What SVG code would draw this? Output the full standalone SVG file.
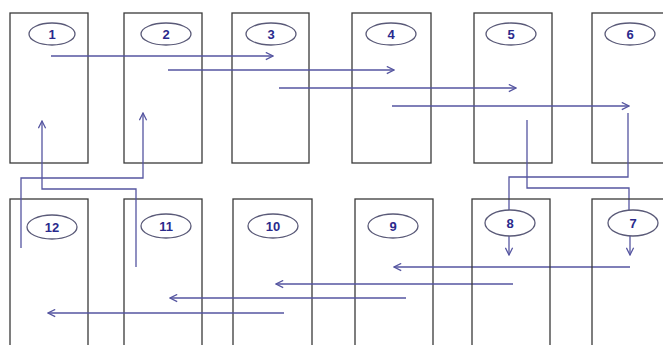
<svg xmlns="http://www.w3.org/2000/svg" width="663" height="345" viewBox="0 0 663 345">
<defs>
<style>
.box{fill:none;stroke:#3a3a3a;stroke-width:1.3}
.ov{fill:#fff;stroke:#5a5a78;stroke-width:1.3}
.lb{font-family:"Liberation Sans",Arial,sans-serif;font-size:13px;font-weight:bold;fill:#2a2a8c;text-anchor:middle;dominant-baseline:central}
.ln{fill:none;stroke:#5555a0;stroke-width:1.3}
.ar{marker-end:url(#ah)}
</style>
<marker id="ah" markerUnits="userSpaceOnUse" viewBox="0 0 10 10" markerWidth="9" markerHeight="9" refX="9" refY="5" orient="auto">
<path d="M1,1 L9,5 L1,9" fill="none" stroke="#5555a0" stroke-width="1.4"/>
</marker>
</defs>
<rect width="663" height="345" fill="#fff"/>
<g id="node1"><rect class="box" x="10" y="13" width="78" height="150"/><ellipse class="ov" cx="52" cy="34" rx="23" ry="11"/><text class="lb" x="52" y="34">1</text></g>
<g id="node2"><rect class="box" x="124" y="13" width="78" height="150"/><ellipse class="ov" cx="166" cy="34" rx="25" ry="11"/><text class="lb" x="166" y="34">2</text></g>
<g id="node3"><rect class="box" x="232" y="13" width="77" height="150"/><ellipse class="ov" cx="271" cy="34" rx="25" ry="11"/><text class="lb" x="271" y="34">3</text></g>
<g id="node4"><rect class="box" x="352" y="13" width="79" height="150"/><ellipse class="ov" cx="391" cy="34" rx="25" ry="11"/><text class="lb" x="391" y="34">4</text></g>
<g id="node5"><rect class="box" x="474" y="13" width="78" height="150"/><ellipse class="ov" cx="511" cy="34" rx="25" ry="11"/><text class="lb" x="511" y="34">5</text></g>
<g id="node6"><rect class="box" x="592" y="13" width="80" height="150"/><ellipse class="ov" cx="630" cy="34" rx="25" ry="11"/><text class="lb" x="630" y="34">6</text></g>
<g id="node12"><rect class="box" x="10" y="199" width="78" height="160"/><ellipse class="ov" cx="52" cy="227" rx="25" ry="12"/><text class="lb" x="52" y="227">12</text></g>
<g id="node11"><rect class="box" x="124" y="199" width="78" height="160"/><ellipse class="ov" cx="166" cy="226" rx="25" ry="12"/><text class="lb" x="166" y="226">11</text></g>
<g id="node10"><rect class="box" x="233" y="199" width="79" height="160"/><ellipse class="ov" cx="273" cy="226" rx="25" ry="12"/><text class="lb" x="273" y="226">10</text></g>
<g id="node9"><rect class="box" x="355" y="199" width="78" height="160"/><ellipse class="ov" cx="393" cy="226" rx="25" ry="12"/><text class="lb" x="393" y="226">9</text></g>
<g id="connectors">
<line class="ln ar" x1="51" y1="56" x2="273" y2="56"/>
<line class="ln ar" x1="168" y1="70" x2="394" y2="70"/>
<line class="ln ar" x1="279" y1="88" x2="516" y2="88"/>
<line class="ln ar" x1="392" y1="106" x2="629" y2="106"/>
<polyline class="ln" points="527,120 527,188 629,188 629,212"/>
<polyline class="ln" points="628,113 628,177 509,177 509,212"/>
<line class="ln ar" x1="630" y1="235" x2="630" y2="255"/>
<line class="ln ar" x1="509" y1="235" x2="509" y2="255"/>
<line class="ln ar" x1="630" y1="267" x2="394" y2="267"/>
<line class="ln ar" x1="513" y1="284" x2="276" y2="284"/>
<line class="ln ar" x1="406" y1="298" x2="170" y2="298"/>
<line class="ln ar" x1="284" y1="313" x2="48" y2="313"/>
<polyline class="ln ar" points="136,267 136,189 42,189 42,121"/>
<polyline class="ln ar" points="21,248 21,178 143,178 143,113"/>
</g>
<g id="node8"><rect class="box" x="472" y="199" width="78" height="160"/><ellipse class="ov" cx="510" cy="223" rx="25" ry="13"/><text class="lb" x="510" y="223">8</text></g>
<g id="node7"><rect class="box" x="592" y="199" width="80" height="160"/><ellipse class="ov" cx="633" cy="223" rx="25" ry="13"/><text class="lb" x="633" y="223">7</text></g>
</svg>
